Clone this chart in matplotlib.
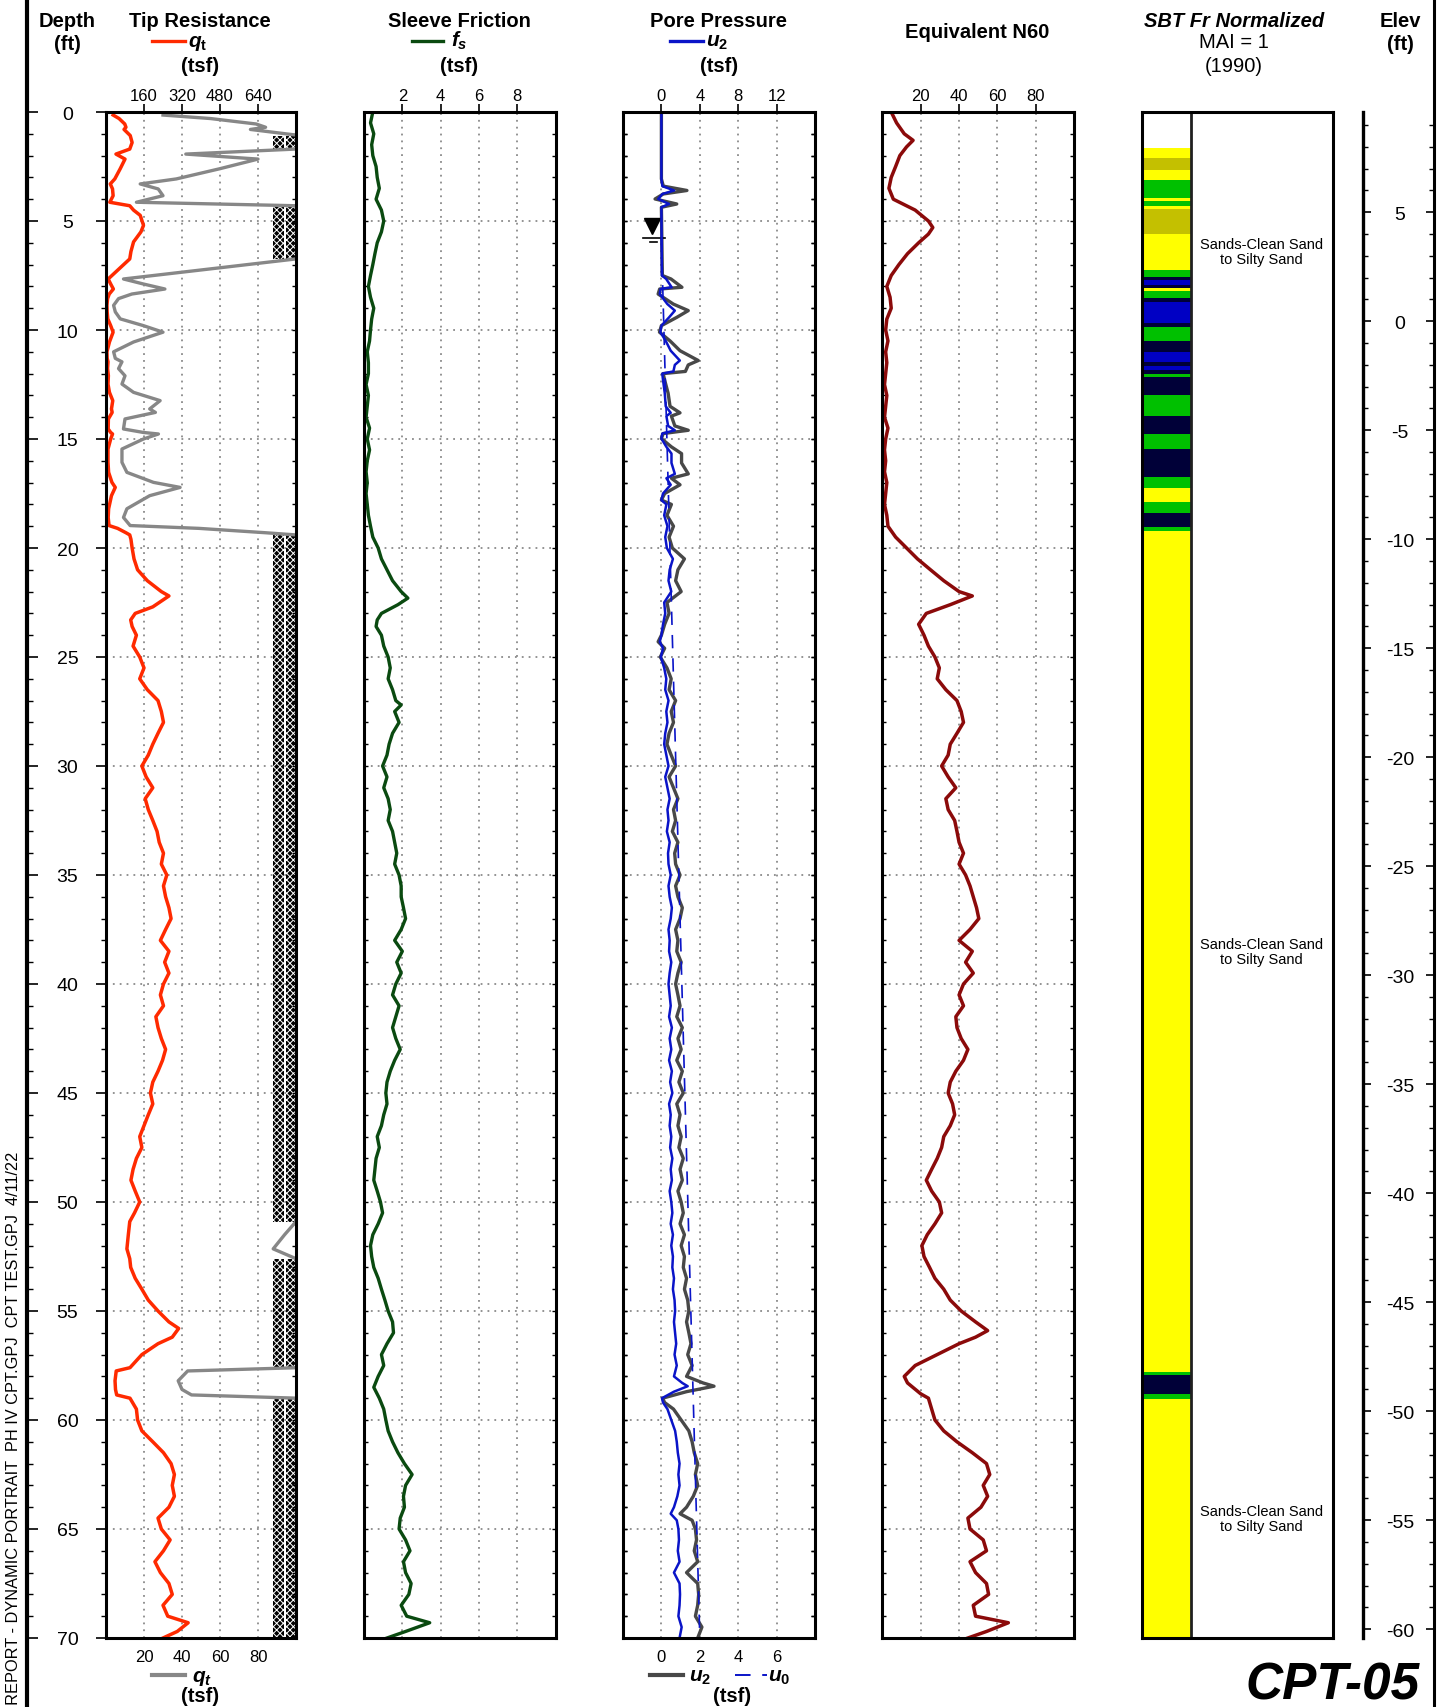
import numpy as np
import matplotlib
matplotlib.use('Agg')
import matplotlib.pyplot as plt
import matplotlib.transforms as mtransforms
from matplotlib.lines import Line2D

plt.rcParams['font.family'] = 'Liberation Sans'
plt.rcParams['mathtext.fontset'] = 'custom'
plt.rcParams['mathtext.it'] = 'Liberation Sans:italic:bold'
plt.rcParams['mathtext.rm'] = 'Liberation Sans:bold'
plt.rcParams['mathtext.bf'] = 'Liberation Sans:bold'
plt.rcParams['hatch.linewidth'] = 0.7
plt.rcParams['lines.solid_joinstyle'] = 'round'

# ---- data (depth in ft) ----
qt_depth = [0.14, 0.3, 0.55, 0.7, 0.8, 0.95, 1.08, 1.4, 1.7, 1.93, 2.16, 2.6, 3.07, 3.3, 3.53, 3.84,
            4.14, 4.3, 4.5, 4.74, 5.2, 5.5, 5.96, 6.4, 6.74, 7.66, 7.89, 8.12, 8.35, 8.56, 8.87, 9.17,
            9.49, 9.8, 10.1, 10.55, 11.0, 11.3, 11.46, 11.77, 12.1, 12.48, 12.86, 13.24, 13.62, 13.78,
            14.08, 14.54, 14.7, 14.77, 15.0, 15.46, 16.07, 16.53, 16.99, 17.22, 17.6, 18.2, 18.6, 18.97,
            19.1, 19.3, 19.4, 19.6, 20.0, 20.5, 21.0, 21.5, 22.0, 22.2, 22.7, 23.0, 23.3, 23.6, 24.0,
            24.5, 25.0, 25.5, 26.0, 26.5, 27.0, 27.5, 28.0, 28.5, 29.0, 29.5, 30.0, 30.5, 31.0, 31.5,
            32.0, 32.5, 33.0, 33.5, 34.0, 34.5, 35.0, 35.5, 36.0, 36.5, 37.0, 37.5, 38.0, 38.5, 39.0,
            39.5, 40.0, 40.5, 41.0, 41.5, 42.0, 42.5, 43.0, 43.5, 44.0, 44.5, 45.0, 45.5, 46.0, 46.5,
            47.0, 47.5, 48.0, 48.5, 49.0, 49.5, 50.0, 50.5, 50.9, 51.5, 52.15, 52.6, 53.0, 53.5, 54.0,
            54.5, 55.0, 55.5, 55.8, 56.2, 56.5, 57.0, 57.6, 57.75, 58.2, 58.6, 58.85, 59.0, 59.5, 60.0,
            60.5, 61.0, 61.5, 62.0, 62.5, 63.0, 63.5, 64.0, 64.5, 65.0, 65.5, 66.0, 66.5, 67.0, 67.5,
            68.0, 68.5, 69.0, 69.3, 69.7, 70.0]
qt = [30, 55, 79, 84, 76, 90, 102, 110, 100, 42, 80, 60, 37, 18, 27.5, 30,
      16, 100, 116, 144, 158, 147, 116, 105, 100, 9.2, 19.7, 31, 13.6, 6.6, 4, 4.9,
      7.5, 19.7, 30, 14.5, 4, 4.9, 8.4, 6.6, 10, 8.4, 14.5, 28.5, 23, 26,
      10, 9.2, 19.7, 27.6, 19.7, 8.4, 8.4, 11, 25, 39, 23, 11, 9.2, 12.7,
      49, 84, 100, 105, 110, 118, 133, 174, 233, 265, 197, 123, 104, 110, 128,
      114, 142, 160, 142, 174, 219, 233, 242, 219, 197, 178, 151, 169, 197, 165,
      178, 197, 215, 224, 242, 233, 256, 242, 251, 265, 274, 251, 229, 265, 247,
      265, 242, 229, 242, 210, 219, 233, 251, 238, 219, 197, 187, 197, 178, 160,
      142, 151, 128, 114, 105, 123, 142, 120, 100, 94, 88, 100, 104, 123, 151,
      178, 219, 265, 306, 279, 219, 151, 101, 43, 38, 40, 45, 101, 128, 133,
      151, 197, 242, 274, 288, 279, 288, 265, 219, 233, 270, 242, 206, 229, 265,
      279, 240, 260, 346, 300, 240]

fs_depth = [0, 0.5, 1, 1.5, 2, 2.5, 3, 3.5, 4, 4.5, 5, 5.5, 6, 6.5, 7, 7.5, 8, 8.5, 9, 9.5, 10,
            10.5, 11, 11.5, 12, 12.5, 13, 13.5, 14, 14.5, 15, 15.5, 16, 16.5, 17, 17.5, 18, 18.5,
            19, 19.5, 20, 20.5, 21, 21.5, 22, 22.3, 22.6, 23, 23.3, 23.6, 24, 24.5, 25, 25.5, 26,
            26.5, 27, 27.2, 27.5, 28, 28.5, 29, 29.5, 30, 30.5, 31, 31.5, 32, 32.5, 33, 33.5, 34,
            34.5, 35, 35.5, 36, 36.5, 37, 37.5, 38, 38.5, 39, 39.5, 40, 40.5, 41, 41.5, 42, 42.5,
            43, 43.5, 44, 44.5, 45, 45.5, 46, 46.5, 47, 47.5, 48, 48.5, 49, 49.5, 50, 50.5, 51,
            51.5, 52, 52.5, 53, 53.5, 54, 54.5, 55, 55.5, 56, 56.5, 57, 57.5, 58, 58.5, 59, 59.5,
            60, 60.5, 61, 61.5, 62, 62.5, 63, 63.5, 64, 64.5, 65, 65.5, 66, 66.5, 67, 67.5, 68,
            68.5, 69, 69.3, 69.7, 70]
fs = [0.46, 0.34, 0.51, 0.40, 0.46, 0.63, 0.69, 0.80, 0.63, 0.91, 1.03, 0.91, 0.69, 0.57, 0.46,
      0.34, 0.23, 0.34, 0.51, 0.40, 0.34, 0.29, 0.17, 0.23, 0.23, 0.11, 0.23, 0.17, 0.11, 0.29,
      0.17, 0.29, 0.17, 0.11, 0.17, 0.11, 0.17, 0.23, 0.34, 0.46, 0.74, 0.91, 1.20, 1.49, 1.94,
      2.29, 1.77, 0.91, 0.69, 0.63, 0.91, 1.03, 1.26, 1.37, 1.26, 1.49, 1.66, 1.94, 1.60, 1.83,
      1.49, 1.31, 1.20, 0.97, 1.20, 1.03, 1.26, 1.37, 1.26, 1.49, 1.60, 1.71, 1.60, 1.83, 1.94,
      1.94, 2.06, 2.17, 1.94, 1.60, 2.00, 1.71, 1.94, 1.66, 1.49, 1.83, 1.66, 1.49, 1.66, 1.89,
      1.60, 1.37, 1.20, 1.14, 1.20, 1.03, 0.91, 0.69, 0.80, 0.63, 0.57, 0.51, 0.69, 0.86, 0.97,
      0.74, 0.46, 0.34, 0.40, 0.51, 0.74, 0.91, 1.09, 1.26, 1.49, 1.54, 1.20, 0.91, 1.03, 0.74,
      0.51, 0.80, 1.03, 1.14, 1.26, 1.49, 1.77, 2.11, 2.51, 2.17, 2.06, 2.11, 1.89, 1.83, 2.17,
      2.40, 2.06, 2.17, 2.46, 2.34, 1.94, 2.23, 3.43, 2.17, 1.20]

u2_depth = [0, 3.07, 3.4, 3.6, 3.76, 3.99, 4.22, 4.37, 7.5, 7.66, 8.04, 8.12, 8.35, 8.81, 9.11,
            9.42, 9.8, 10.1, 10.5, 10.95, 11.4, 11.6, 11.9, 12.0, 12.3, 12.9, 13.5, 13.8, 13.95,
            14.4, 14.6, 14.75, 14.98, 15.36, 15.67, 16.1, 16.6, 16.8, 17.1, 17.5, 17.8, 18.0, 18.5,
            19, 19.5, 20, 20.5, 21, 21.5, 22, 22.5, 23, 23.5, 24, 24.3, 24.6, 25, 25.5, 26, 26.5,
            27, 27.5, 28, 28.5, 29, 29.5, 30, 30.5, 31, 31.5, 32, 32.5, 33, 33.5, 34, 34.5, 35,
            35.5, 36, 36.5, 37, 37.5, 38, 38.5, 39, 39.5, 40, 40.5, 41, 41.5, 42, 42.5, 43, 43.5,
            44, 44.5, 45, 45.5, 46, 46.5, 47, 47.5, 48, 48.5, 49, 49.5, 50, 50.5, 51, 51.5, 52,
            52.5, 53, 53.5, 54, 54.5, 55, 55.5, 56, 56.5, 57, 57.5, 58, 58.3, 58.45, 58.7, 59,
            59.2, 59.5, 60, 60.5, 61, 61.5, 62, 62.5, 63, 63.5, 64, 64.3, 64.6, 65, 65.5, 66,
            66.5, 67, 67.5, 68, 68.5, 69, 69.5, 70]
u2 = [0.0, 0.0, 0.1, 1.33, 0.1, -0.33, 0.8, 0.0, 0.05, 0.5, 1.07, -0.09, -0.17, 0.62, 1.4,
      0.8, 0.0, -0.1, 0.45, 0.97, 1.92, 1.4, 1.25, 0.09, 0.17, 0.35, 0.45, 0.97, 0.52,
      0.7, 1.4, 0.09, 0.0, 0.52, 1.05, 1.05, 1.4, 0.52, 0.97, 0.17, 0.0, 0.52, 0.29,
      0.63, 0.4, 0.57, 1.2, 0.86, 0.74, 1.03, 0.29, 0.4, 0.17, 0.0, -0.17, 0.17, -0.06, 0.29,
      0.51, 0.40, 0.74, 0.51, 0.63, 0.40, 0.29, 0.51, 0.74, 0.40, 0.63, 0.86, 0.63, 0.74,
      0.57, 0.86, 0.69, 0.74, 0.97, 0.74, 0.86, 1.09, 0.97, 0.74, 0.86, 0.80, 1.03, 0.86,
      0.74, 0.86, 0.97, 0.80, 1.09, 0.86, 1.03, 0.80, 1.09, 0.91, 1.14, 0.80, 0.97, 0.86,
      1.03, 0.91, 1.14, 0.97, 1.09, 0.86, 1.03, 1.14, 0.97, 1.20, 1.03, 1.20, 1.14, 1.31,
      1.20, 1.37, 1.43, 1.31, 1.43, 1.54, 1.37, 1.60, 1.31, 2.17, 2.74, 1.31, 0.06, 0.17,
      0.63, 1.03, 1.43, 1.60, 1.71, 1.89, 1.77, 1.89, 1.66, 1.31, 0.97, 1.60, 1.77, 1.83,
      1.71, 1.89, 1.31, 1.89, 1.94, 1.89, 1.77, 2.11, 1.89]

u0_depth = [5.8, 70.0]
u0 = [0.0, 2.0]
water_depth = 5.8

n60_depth = [0, 0.5, 1, 1.3, 1.6, 2, 2.5, 3, 3.5, 4, 4.2, 4.5, 5, 5.3, 5.6, 6, 6.5, 7, 7.5, 8, 8.5,
             9, 9.5, 10, 10.5, 11, 11.5, 12, 12.5, 13, 13.5, 14, 14.5, 15, 15.5, 16, 16.5, 17,
             17.5, 18, 18.5, 19, 19.5, 20, 20.5, 21, 21.5, 22, 22.2, 22.6, 23, 23.5, 24, 24.5, 25,
             25.5, 26, 26.5, 27, 27.5, 28, 28.5, 29, 29.5, 30, 30.5, 31, 31.5, 32, 32.5, 33, 33.5,
             34, 34.5, 35, 35.5, 36, 36.5, 37, 37.5, 38, 38.5, 39, 39.5, 40, 40.5, 41, 41.5, 42,
             42.5, 43, 43.5, 44, 44.5, 45, 45.5, 46, 46.5, 47, 47.5, 48, 48.5, 49, 49.5, 50, 50.5,
             51, 51.5, 52, 52.5, 53, 53.5, 54, 54.5, 55, 55.5, 55.9, 56.2, 56.5, 57, 57.5, 58,
             58.3, 58.8, 59, 59.5, 60, 60.5, 61, 61.5, 62, 62.5, 63, 63.5, 64, 64.5, 65, 65.5, 66,
             66.5, 67, 67.5, 68, 68.5, 69, 69.3, 69.7, 70]
n60 = [4.6, 7.4, 11.4, 16.0, 12.6, 9.1, 6.9, 4.6, 3.4, 5.7, 10.3, 17.1, 24.0, 26.3, 24.0, 18.9,
       13.1, 8.6, 4.6, 2.3, 4.0, 4.6, 2.3, 1.7, 2.9, 1.7, 2.3, 1.7, 1.1, 2.3, 1.7, 1.1, 2.9, 1.7,
       1.1, 1.7, 1.1, 2.3, 1.7, 1.1, 2.3, 2.9, 6.9, 12.6, 18.3, 25.1, 32.0, 40.0, 46.9, 35.4,
       22.9, 18.9, 21.7, 24.0, 27.4, 29.7, 28.6, 33.1, 38.9, 41.1, 42.3, 38.9, 35.4, 34.3, 30.9,
       34.3, 38.3, 33.1, 34.3, 37.7, 38.9, 40.0, 42.3, 40.0, 43.4, 45.7, 47.4, 49.1, 50.3, 45.7,
       40.0, 46.9, 43.4, 47.4, 42.3, 40.0, 42.3, 38.3, 38.9, 41.1, 44.6, 42.3, 38.3, 35.4, 34.3,
       36.6, 37.7, 35.4, 32.0, 30.9, 28.6, 25.7, 22.9, 25.7, 29.7, 30.9, 27.4, 23.4, 20.6, 21.7,
       24.6, 27.4, 32.0, 35.4, 41.1, 48.6, 54.9, 48.6, 40.0, 28.6, 17.1, 11.4, 13.1, 20.0, 24.0,
       25.7, 27.4, 32.0, 38.9, 46.9, 54.3, 56.0, 52.6, 54.9, 51.4, 44.6, 45.7, 52.6, 54.3, 45.7,
       48.6, 54.3, 55.4, 47.4, 48.6, 65.7, 54.3, 44.6]

sbt_top = [1.67, 2.12, 2.65, 3.12, 3.95, 4.07, 4.30, 4.45, 5.60, 7.25, 7.55, 7.69, 7.92, 8.07,
           8.21, 8.53, 8.70, 9.68, 9.86, 10.50, 11.00, 11.48, 11.64, 11.85, 12.02, 12.16, 12.98,
           13.94, 14.77, 15.46, 16.73, 17.25, 17.90, 18.40, 19.02, 19.20, 57.80, 57.92, 58.80,
           59.05]
sbt_bot = sbt_top[1:] + [70.0]
sbt_zone = ['Y', 'O', 'Y', 'G', 'Y', 'G', 'Y', 'O', 'Y', 'G', 'N', 'B', 'N', 'Y',
            'G', 'N', 'B', 'N', 'G', 'N', 'B', 'N', 'B', 'N', 'G', 'N', 'G',
            'N', 'G', 'N', 'G', 'Y', 'G', 'N', 'G', 'Y', 'G', 'N', 'G', 'Y']
zone_color = {'Y': '#ffff00', 'O': '#c4c000', 'G': '#00c000', 'B': '#0000c4', 'N': '#000038'}
sbt_label = 'Sands-Clean Sand\nto Silty Sand'
sbt_label_depth = [6.4, 38.5, 64.5]

ground_elev = 9.6

# ---- layout helpers (pixel positions of the page) ----
W, H = 1438, 1708
TOP, BOT = 113, 1639
fig = plt.figure(figsize=(W / 100, H / 100), dpi=100)

RED = '#ff2a00'
GRAY = '#878787'
DKGRAY = '#484848'
GREEN = '#0a4a10'
BLUE = '#0a14c8'
MAROON = '#8b0a0a'
SPINE_LW = 2.2
GRID = dict(color='#8a8a8a', lw=1.3, ls=(0, (1, 2.8)), zorder=0)


def rect(x0, x1):
    return [x0 / W, 1 - BOT / H, (x1 - x0) / W, (BOT - TOP) / H]


def ftext(x, y, s, **kw):
    kw.setdefault('ha', 'center')
    kw.setdefault('va', 'baseline')
    return fig.text(x / W, 1 - y / H, s, **kw)


def fline(x0, x1, y, **kw):
    fig.add_artist(Line2D([x0 / W, x1 / W], [1 - y / H, 1 - y / H],
                          transform=fig.transFigure, **kw))


def vline(x, y0, y1, **kw):
    fig.add_artist(Line2D([x / W, x / W], [1 - y0 / H, 1 - y1 / H],
                          transform=fig.transFigure, **kw))


def depth_axis(ax, inner=True):
    ax.set_ylim(70, 0)
    ax.set_yticks(np.arange(0, 71, 5))
    ax.set_yticks(np.arange(0, 71, 1), minor=True)
    if inner:
        ax.tick_params(axis='y', which='both', direction='in', left=True, right=True,
                       labelleft=False, length=3, width=1)


def frame(ax):
    for s in ax.spines.values():
        s.set_linewidth(SPINE_LW)


def no_frame(ax):
    for s in ax.spines.values():
        s.set_visible(False)


def top_ticks(ax, ticks):
    ax.xaxis.tick_top()
    ax.set_xticks(ticks)
    ax.tick_params(axis='x', direction='out', length=5.8, width=1.2, labelsize=12, pad=0.5)


def grid(ax, xs):
    for d in range(5, 70, 5):
        ax.axhline(d, **GRID)
    for v in xs:
        ax.axvline(v, **GRID)


# ---- panel 1 : tip resistance ----
ax1g = fig.add_axes(rect(106, 296))
ax1g.set_xlim(0, 100)
depth_axis(ax1g, inner=False)
ax1g.yaxis.tick_right()
ax1g.tick_params(axis='y', which='both', direction='in', length=3, width=1, labelright=False)
ax1g.xaxis.tick_bottom()
ax1g.set_xticks([20, 40, 60, 80])
ax1g.tick_params(axis='x', length=0, labelsize=12, pad=8)
no_frame(ax1g)
grid(ax1g, [20, 40, 60, 80])
qt_a = np.array(qt)
over = qt_a >= 99.5
# off-scale marker: dark zig-zag columns where q_t runs past 100 tsf
for a, b in [(88, 93.5), (94.5, 100)]:
    ax1g.fill_betweenx(qt_depth, a, b, where=over, color='black', linewidth=0, zorder=1)
    ax1g.fill_betweenx(qt_depth, a, b, where=over, facecolor='none', edgecolor='white',
                       hatch='xxxxx', linewidth=0, zorder=1.1)
ax1g.plot(qt_a, qt_depth, color=GRAY, lw=2.4, zorder=2)

ax1 = fig.add_axes(rect(106, 296))
ax1.patch.set_visible(False)
ax1.set_xlim(0, 800)
depth_axis(ax1, inner=False)
ax1.plot(qt_a, qt_depth, color=RED, lw=2.5)
top_ticks(ax1, [160, 320, 480, 640])
ax1.tick_params(axis='y', which='major', left=True, right=False, direction='out', length=7.2,
                width=1.2, labelsize=14, pad=20.5)
ax1.tick_params(axis='y', which='minor', left=True, right=False, direction='out', length=3.6,
                width=1)
for lbl in ax1.get_yticklabels():
    lbl.set_horizontalalignment('center')
frame(ax1)

# ---- panel 2 : sleeve friction ----
ax2 = fig.add_axes(rect(364, 555.6))
ax2.set_xlim(0, 10)
depth_axis(ax2)
grid(ax2, [2, 4, 6, 8])
ax2.plot(fs, fs_depth, color=GREEN, lw=2.4)
top_ticks(ax2, [2, 4, 6, 8])
frame(ax2)

# ---- panel 3 : pore pressure ----
ax3g = fig.add_axes(rect(623, 815))
ax3g.set_xlim(-2, 8)
depth_axis(ax3g)
grid(ax3g, [0, 2, 4, 6])
ax3g.xaxis.tick_bottom()
ax3g.set_xticks([0, 2, 4, 6])
ax3g.tick_params(axis='x', length=0, labelsize=12, pad=8)
no_frame(ax3g)
ax3g.plot(u2, u2_depth, color=DKGRAY, lw=2.4, zorder=2)
ax3g.plot(u0, u0_depth, color=BLUE, lw=1.2, ls=(0, (8, 6)), zorder=3)
ax3g.plot([-0.51], [water_depth - 0.55], marker='v', ms=12, color='black', zorder=4)
ax3g.plot([-0.98, 0.19], [water_depth, water_depth], color='black', lw=1.2, zorder=4)
ax3g.plot([-0.6, -0.25], [water_depth + 0.15, water_depth + 0.15], color='black', lw=1.2, zorder=4)

ax3 = fig.add_axes(rect(623, 815))
ax3.patch.set_visible(False)
ax3.set_xlim(-4, 16)
depth_axis(ax3)
ax3.plot(u2, u2_depth, color=BLUE, lw=1.8)
top_ticks(ax3, [0, 4, 8, 12])
frame(ax3)

# ---- panel 4 : equivalent N60 ----
ax4 = fig.add_axes(rect(882.4, 1074.1))
ax4.set_xlim(0, 100)
depth_axis(ax4)
grid(ax4, [20, 40, 60, 80])
ax4.plot(n60, n60_depth, color=MAROON, lw=2.5)
top_ticks(ax4, [20, 40, 60, 80])
frame(ax4)

# ---- panel 5 : SBT ----
ax5 = fig.add_axes(rect(1141.7, 1333.4))
ax5.set_xlim(0, 1)
ax5.set_ylim(70, 0)
ax5.set_xticks([])
ax5.set_yticks([])
col_w = 0.256
tops = np.array(sbt_top)
bots = np.array(sbt_bot)
ax5.barh((tops + bots) / 2, col_w, height=bots - tops, left=0,
         color=[zone_color[z] for z in sbt_zone], linewidth=0)
ax5.axvline(col_w, color='#202020', lw=2)
for d in sbt_label_depth:
    ax5.text(0.625, d, sbt_label, ha='center', va='center', fontsize=10.5, linespacing=1.1)
frame(ax5)

# ---- elevation axis ----
axE = fig.add_axes(rect(1363, 1434))
axE.patch.set_visible(False)
axE.set_ylim(ground_elev - 70, ground_elev)
axE.set_xlim(0, 1)
major_e = np.arange(5, -61, -5)
axE.set_yticks(major_e)
axE.set_yticks(np.arange(9, -61, -1), minor=True)
axE.tick_params(axis='y', which='major', direction='in', left=True, right=True,
                labelleft=False, labelright=False, length=5.8, width=1.2)
axE.tick_params(axis='y', which='minor', direction='in', left=True, right=True, length=3.6, width=1)
axE.set_xticks([])
for k, s in axE.spines.items():
    s.set_visible(k == 'left')
axE.spines['left'].set_linewidth(2.4)
tr = mtransforms.blended_transform_factory(axE.transAxes, axE.transData)
for e in major_e:
    axE.text(0.52, e, f'{e}', transform=tr, ha='center', va='center_baseline', fontsize=14)

# ---- page borders ----
vline(27, 0, H, color='black', lw=3)
vline(1434, 0, H, color='black', lw=2.2)
axL = fig.add_axes([27 / W, 1 - BOT / H, 20 / W, (BOT - TOP) / H])
axL.patch.set_visible(False)
no_frame(axL)
axL.set_ylim(70, 0)
axL.set_xticks([])
axL.set_yticks(np.arange(0, 71, 5))
axL.set_yticks(np.arange(0, 71, 1), minor=True)
axL.tick_params(axis='y', which='major', direction='in', length=8, width=1.2, labelleft=False)
axL.tick_params(axis='y', which='minor', direction='in', length=4.5, width=1)

# ---- header text ----
B = dict(fontsize=14.5, fontweight='bold')
ftext(67, 26.7, 'Depth', **B)
ftext(67, 50, '(ft)', **B)
ftext(200, 26.7, 'Tip Resistance', **B)
fline(152, 185, 42, color=RED, lw=2.4)
ftext(188, 46.7, r'$q_\mathrm{t}$', ha='left', fontsize=15)
ftext(200, 71.7, '(tsf)', **B)

ftext(459, 26.7, 'Sleeve Friction', **B)
fline(412, 443, 42, color=GREEN, lw=2.4)
ftext(451, 46.7, r'$f_s$', ha='left', fontsize=15)
ftext(459, 71.7, '(tsf)', **B)

ftext(719, 26.7, 'Pore Pressure', **B)
fline(670, 703, 42, color=BLUE, lw=2.4)
ftext(706, 46.7, r'$u_{\mathit{2}}$', ha='left', fontsize=15)
ftext(719, 71.7, '(tsf)', **B)

ftext(977, 38, 'Equivalent N60', **B)

ftext(1234, 26.7, 'SBT Fr Normalized', fontsize=14.5, fontweight='bold', style='italic')
ftext(1234, 48, 'MAI = 1', fontsize=14.5)
ftext(1234, 72, '(1990)', fontsize=14.5)

ftext(1400, 26.7, 'Elev', **B)
ftext(1400, 50, '(ft)', **B)

# ---- bottom legends ----
fline(152, 185, 1676, color=GRAY, lw=3)
ftext(192, 1681.7, r'$q_t$', ha='left', fontsize=15)
ftext(200, 1701.7, '(tsf)', **B)

fline(650, 683, 1676, color=DKGRAY, lw=3)
ftext(689, 1681.7, r'$u_{\mathit{2}}$', ha='left', fontsize=15)
fline(735, 767, 1676, color=BLUE, lw=1.4, ls=(0, (8, 6)))
ftext(768, 1681.7, r'$u_{\mathit{0}}$', ha='left', fontsize=15)
ftext(731.7, 1701.7, '(tsf)', **B)

ftext(1420, 1700, 'CPT-05', ha='right', fontsize=37, fontweight='bold', style='italic')

# page footer stamp, cut by the bottom edge as on the printed log
ftext(14, 1152, 'CPT REPORT - DYNAMIC PORTRAIT  PH IV CPT.GPJ  CPT TEST.GPJ  4/11/22',
      rotation=90, ha='center', va='top', fontsize=11.8)

fig.savefig('out.png', dpi=100)
